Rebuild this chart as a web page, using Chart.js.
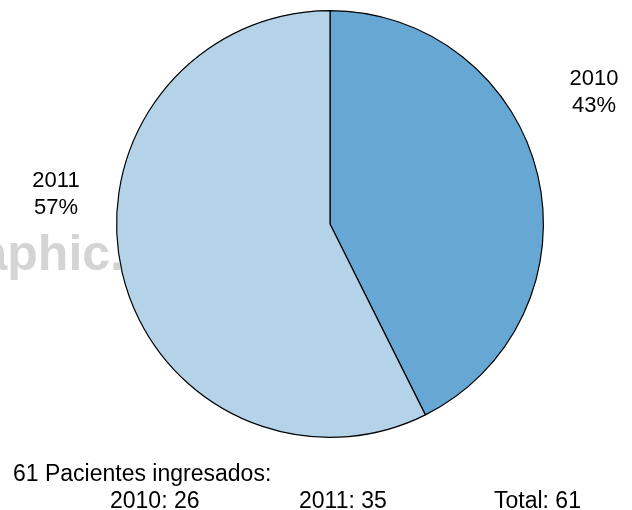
<!DOCTYPE html>
<html>
<head>
<meta charset="utf-8">
<script src="https://cdn.jsdelivr.net/npm/chart.js@4"></script>
<style>
  html, body { margin: 0; padding: 0; background: #fff; }
  #pie { display: block; }
</style>
</head>
<body>
<canvas id="pie" width="632" height="510"></canvas>
<script>
// data
const years = ['2010', '2011'];
const patients = [26, 35];
const sliceColors = ['#67a7d4', '#b4d3e8'];

const total = patients.reduce((a, b) => a + b, 0);
const percents = patients.map(v => Math.round(v / total * 100));

// faded watermark behind the pie
const watermark = {
    id: 'watermark',
    beforeDatasetsDraw(chart) {
        const ctx = chart.ctx;
        ctx.save();
        ctx.font = 'bold 50px "Liberation Sans", Arial, sans-serif';
        ctx.fillStyle = '#d4d4d4';
        ctx.textAlign = 'right';
        ctx.textBaseline = 'alphabetic';
        ctx.fillText('Graphic.', 124, 270);
        ctx.restore();
    }
};

// slice labels and footer text
const texts = {
    id: 'texts',
    afterDraw(chart) {
        const ctx = chart.ctx;
        ctx.save();
        ctx.fillStyle = '#000';
        ctx.textBaseline = 'alphabetic';

        // labels outside the slices
        ctx.font = '22px "Liberation Sans", Arial, sans-serif';
        ctx.textAlign = 'center';
        ctx.fillText(years[0], 594, 85);
        ctx.fillText(percents[0] + '%', 594, 112);
        ctx.fillText(years[1], 56, 187);
        ctx.fillText(percents[1] + '%', 56, 214);

        // footer
        ctx.font = '23px "Liberation Sans", Arial, sans-serif';
        ctx.textAlign = 'left';
        ctx.fillText(total + ' Pacientes ingresados:', 13, 481);
        ctx.fillText(years[0] + ': ' + patients[0], 110, 508);
        ctx.fillText(years[1] + ': ' + patients[1], 299, 508);
        ctx.fillText('Total: ' + total, 494, 508);
        ctx.restore();
    }
};

new Chart(document.getElementById('pie'), {
    type: 'pie',
    data: {
        labels: years,
        datasets: [{
            data: patients,
            backgroundColor: sliceColors,
            borderColor: '#000',
            borderWidth: 1.2
        }]
    },
    options: {
        responsive: false,
        animation: false,
        devicePixelRatio: 1,
        layout: { padding: { top: 10, bottom: 72, left: 116, right: 88 } },
        plugins: {
            legend: { display: false },
            tooltip: { enabled: false }
        }
    },
    plugins: [watermark, texts]
});
</script>
</body>
</html>
